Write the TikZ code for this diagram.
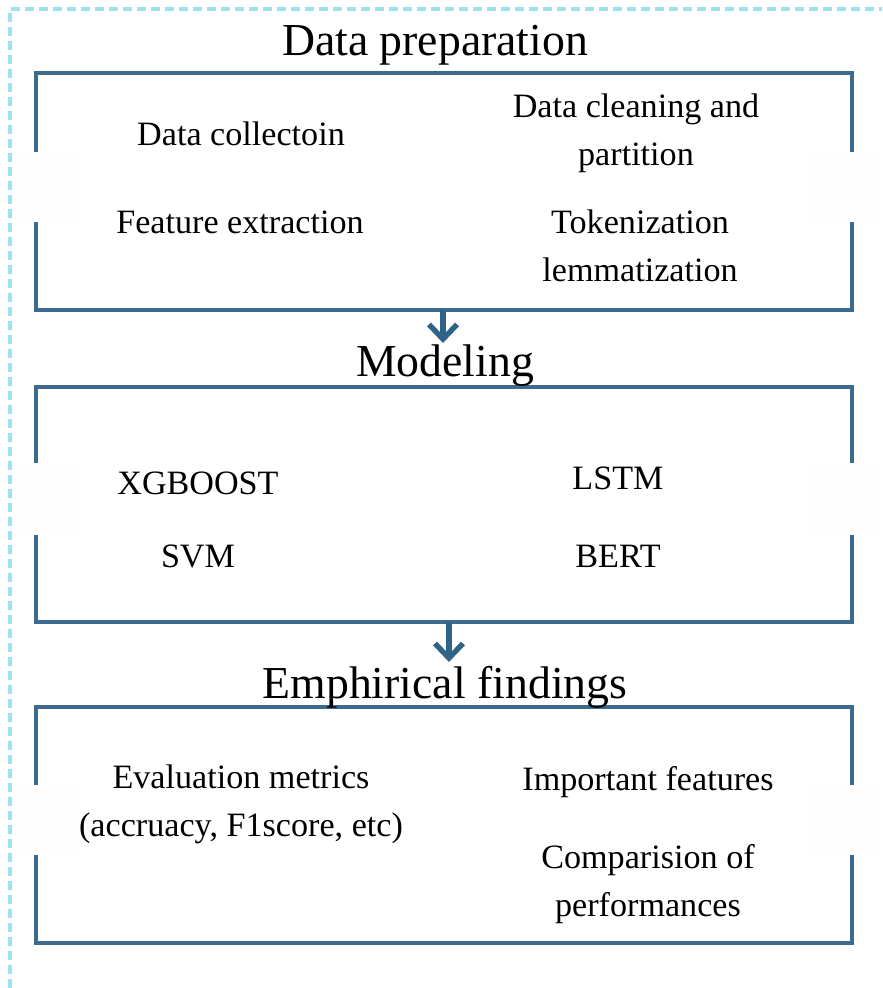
\documentclass[tikz,border=0pt]{standalone}
\usepackage{fontspec}
\setmainfont{Liberation Serif}
\usetikzlibrary{arrows.meta}
\definecolor{frameblue}{HTML}{3C6B8E}
\definecolor{arrowblue}{HTML}{2F6388}
\definecolor{dashcyan}{HTML}{9EE2F2}
\tikzset{
  stagebox/.style={draw=frameblue, line width=2.3pt, fill=none, inner sep=0pt},
  gapmask/.style={fill=black!0.5, draw=none},
  title/.style={font=\fontsize{34.3}{40}\selectfont, inner sep=0pt, anchor=center},
  item/.style={font=\fontsize{25.6}{36}\selectfont, align=center, inner sep=0pt, anchor=center},
  flow/.style={draw=arrowblue, line width=4pt, -{Straight Barb[length=11pt, width=21pt, line width=4pt]}},
}
\begin{document}
\begin{tikzpicture}[x=0.75pt, y=-0.75pt]
\useasboundingbox (0,0) rectangle (882,988);

% light dashed outer frame (only its top and left edges fall inside the page)
\begin{scope}
  \clip (0,0) rectangle (882,988);
  \draw[dashcyan, line width=2.3pt, dash pattern=on 7pt off 3.5pt] (10,1100) -- (10,9) -- (1000,9);
\end{scope}

% stage frames
\draw[stagebox] (36,73) rectangle (852,310);
\draw[stagebox] (36,387) rectangle (852,622);
\draw[stagebox] (36,707) rectangle (852,943);
\node[inner sep=0pt, minimum width=816*0.75pt, minimum height=237*0.75pt] (prep) at (444,191.5) {};
\node[inner sep=0pt, minimum width=816*0.75pt, minimum height=235*0.75pt] (model) at (444,504.5) {};
\node[inner sep=0pt, minimum width=816*0.75pt, minimum height=236*0.75pt] (find) at (444,825) {};

% openings in the side edges
\fill[gapmask] (15,152) rectangle (82,222);
\fill[gapmask] (807,152) rectangle (882,222);
\fill[gapmask] (15,463) rectangle (82,535);
\fill[gapmask] (807,463) rectangle (882,535);
\fill[gapmask] (15,785) rectangle (82,855);
\fill[gapmask] (807,785) rectangle (882,855);

% stage titles
\node[title] (tprep) at (435,45) {Data preparation};
\node[title] (tmodel) at (445,366) {Modeling};
\node[title] (tfind) at (445,687) {Emphirical findings};

% stage contents
\node[item] (collect) at (241,134) {Data collectoin};
\node[item] (clean) at (636,133) {Data cleaning and\\partition};
\node[item] (feat) at (240,222) {Feature extraction};
\node[item] (token) at (640,246) {Tokenization\\lemmatization};

\node[item] (xgb) at (198,483) {XGBOOST};
\node[item] (lstm) at (618,478) {LSTM};
\node[item] (svm) at (198,556) {SVM};
\node[item] (bert) at (618,556) {BERT};

\node[item] (evalm) at (241,804) {Evaluation metrics\\(accruacy, F1score, etc)};
\node[item] (imp) at (648,782) {Important features};
\node[item] (comp) at (648,884) {Comparision of\\performances};

% flow between stages
\coordinate (a1) at (443,343);
\coordinate (a2) at (449,662);
\draw[flow] (prep.south -| a1) -- (a1);
\draw[flow] (model.south -| a2) -- (a2);
\end{tikzpicture}
\end{document}
